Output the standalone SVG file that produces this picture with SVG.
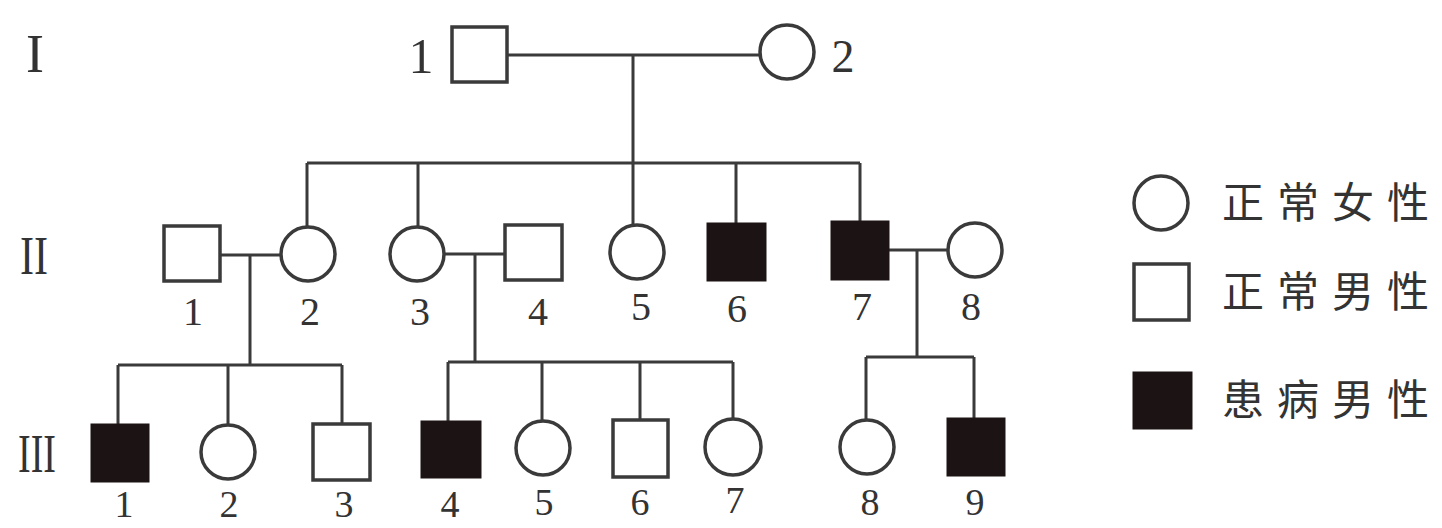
<svg xmlns="http://www.w3.org/2000/svg" width="1442" height="528" viewBox="0 0 1442 528">
<style>
.ln{stroke:#3a3a3a;stroke-width:3;fill:none}
.m{fill:#fff;stroke:#3a3a3a;stroke-width:3.5}
.a{fill:#1c1414;stroke:#1c1414;stroke-width:3}
.num{font-family:"Liberation Serif",serif;font-size:40px;fill:#333;text-anchor:middle}
.n3{font-size:38px}
.gen{font-family:"Liberation Serif",serif;font-size:54px;fill:#333}
.lg{font-family:"Liberation Serif","Noto Sans CJK SC",serif;font-size:42px;fill:#333;letter-spacing:13px}
</style>
<rect width="1442" height="528" fill="#fff"/>
<text class="gen" x="26" y="72">I</text>
<text class="gen" x="20" y="274" textLength="28" lengthAdjust="spacingAndGlyphs">II</text>
<text class="gen" x="18" y="472" textLength="38" lengthAdjust="spacingAndGlyphs">III</text>
<g id="connectors">
<path class="ln" d="M507 55H760M633 55V163M307 163H860M307 163V227M418 163V227M633 163V226M736 163V224M860 163V222"/>
<path class="ln" d="M220 255H281M250 255V365M118 365H342M118 365V425M228 365V425M342 365V425"/>
<path class="ln" d="M444 254H505M475 254V362M448 362H733M448 362V422M542 362V420M640 362V420M733 362V419"/>
<path class="ln" d="M888 250H948M917 250V357M866 357H974M866 357V420M974 357V418"/>
</g>
<g id="I-1"><rect class="m" x="452" y="27" width="55" height="55"/><text class="num" x="421" y="73" style="font-size:50px">1</text></g>
<g id="I-2"><circle class="m" cx="787" cy="52" r="27"/><text class="num" x="843" y="72" style="font-size:46px">2</text></g>
<g id="II-1"><rect class="m" x="164" y="226" width="56" height="55"/><text class="num" x="193" y="325">1</text></g>
<g id="II-2"><circle class="m" cx="308" cy="254" r="27"/><text class="num" x="310" y="325">2</text></g>
<g id="II-3"><circle class="m" cx="417" cy="254" r="27"/><text class="num" x="420" y="325">3</text></g>
<g id="II-4"><rect class="m" x="505" y="225" width="57" height="55"/><text class="num" x="538" y="325">4</text></g>
<g id="II-5"><circle class="m" cx="637" cy="252" r="27"/><text class="num" x="641" y="320">5</text></g>
<g id="II-6"><rect class="a" x="708" y="224" width="57" height="56"/><text class="num" x="737" y="322">6</text></g>
<g id="II-7"><rect class="a" x="832" y="222" width="56" height="57"/><text class="num" x="862" y="320">7</text></g>
<g id="II-8"><circle class="m" cx="975" cy="250" r="27"/><text class="num" x="971" y="320">8</text></g>
<g id="III-1"><rect class="a" x="92" y="425" width="56" height="56"/><text class="num n3" x="124" y="517">1</text></g>
<g id="III-2"><circle class="m" cx="228" cy="452" r="27"/><text class="num n3" x="229" y="517">2</text></g>
<g id="III-3"><rect class="m" x="313" y="424" width="57" height="56"/><text class="num n3" x="344" y="517">3</text></g>
<g id="III-4"><rect class="a" x="422" y="422" width="58" height="55"/><text class="num n3" x="450" y="517">4</text></g>
<g id="III-5"><circle class="m" cx="543" cy="448" r="27"/><text class="num n3" x="544" y="515">5</text></g>
<g id="III-6"><rect class="m" x="613" y="420" width="55" height="57"/><text class="num n3" x="640" y="515">6</text></g>
<g id="III-7"><circle class="m" cx="733" cy="447" r="28"/><text class="num n3" x="735" y="513">7</text></g>
<g id="III-8"><circle class="m" cx="867" cy="447" r="27"/><text class="num n3" x="870" y="515">8</text></g>
<g id="III-9"><rect class="a" x="948" y="419" width="56" height="56"/><text class="num n3" x="975" y="515">9</text></g>
<g id="legend">
<circle class="m" cx="1161" cy="203" r="27"/><text class="lg" x="1222" y="218">正常女性</text>
<rect class="m" x="1134" y="264" width="55" height="56"/><text class="lg" x="1222" y="307">正常男性</text>
<rect class="a" x="1134" y="373" width="57" height="55"/><text class="lg" x="1222" y="415">患病男性</text>
</g>
</svg>
